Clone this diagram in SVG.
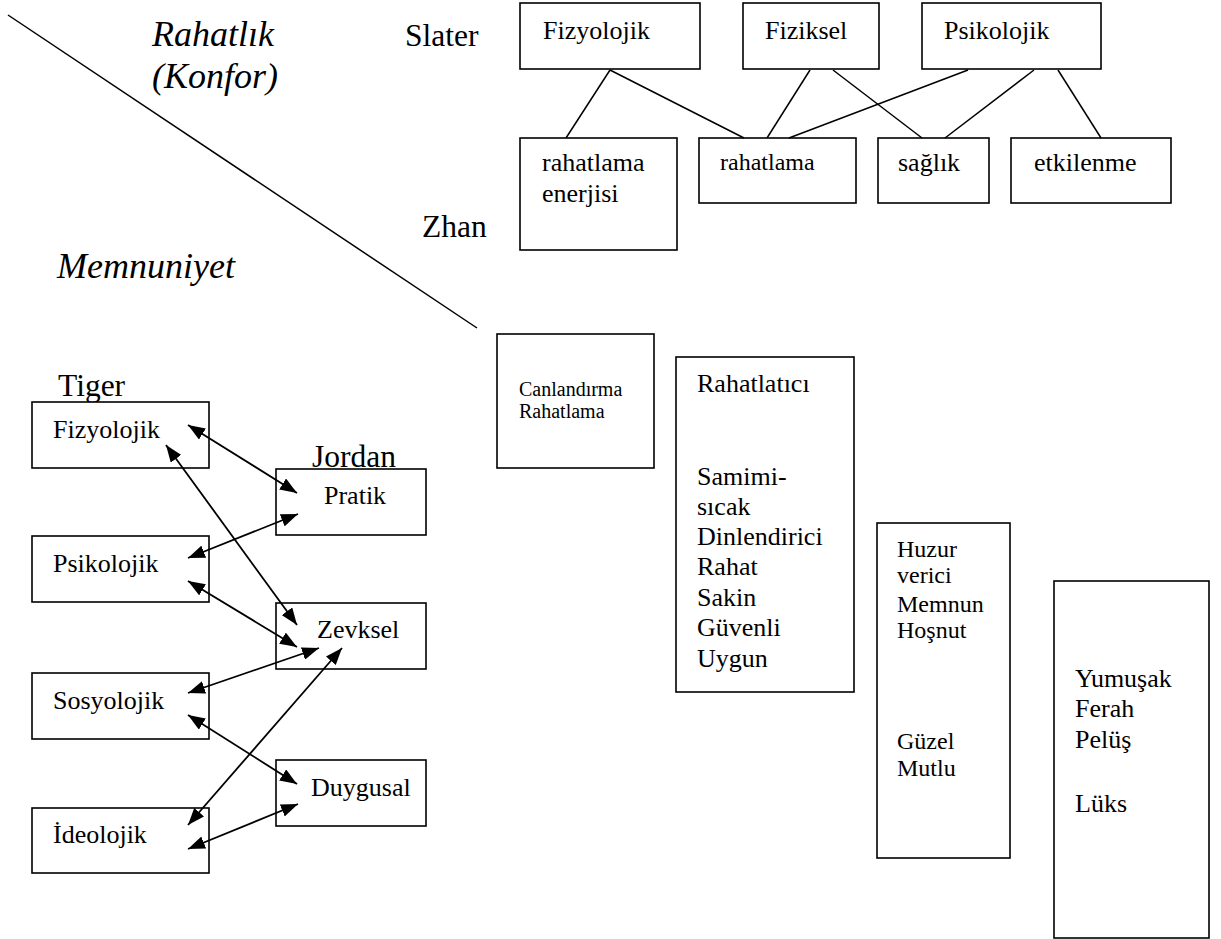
<svg xmlns="http://www.w3.org/2000/svg" width="1221" height="939" viewBox="0 0 1221 939" font-family="'Liberation Serif','Times New Roman',serif">
<defs>
<marker id="ah" viewBox="0 0 17 13" refX="17" refY="6.5" markerWidth="17" markerHeight="13" markerUnits="userSpaceOnUse" orient="auto-start-reverse">
<path d="M0,0 L17,6.5 L0,13 z" fill="#000"/>
</marker>
<style>
text{font-family:"Liberation Serif","Times New Roman",serif;fill:#000}
.b{fill:#fff;stroke:#000;stroke-width:1.6}
.t{font-size:26px}
.s{font-size:24px}
.xs{font-size:20px}
.lab{font-size:31.5px}
.it{font-size:36px;font-style:italic}
.ln{stroke:#000;stroke-width:1.5;fill:none}
.ar{stroke:#000;stroke-width:1.8;fill:none;marker-start:url(#ah);marker-end:url(#ah)}
</style>
</defs>
<rect width="1221" height="939" fill="#fff"/>

<g id="labels">
<line class="ln" x1="8" y1="15" x2="477" y2="328"/>
<text class="it" x="152" y="46">Rahatlık</text>
<text class="it" x="152" y="88">(Konfor)</text>
<text class="it" x="57" y="278">Memnuniyet</text>
<text class="lab" x="405" y="46">Slater</text>
<text class="lab" x="422" y="237">Zhan</text>
<text class="lab" x="58" y="396">Tiger</text>
<text class="lab" x="312" y="467">Jordan</text>
</g>

<g id="slater-fizyolojik"><rect class="b" x="520" y="3" width="180" height="66"/><text class="t" x="543" y="39">Fizyolojik</text></g>
<g id="slater-fiziksel"><rect class="b" x="743" y="3" width="136" height="66"/><text class="t" x="765" y="39">Fiziksel</text></g>
<g id="slater-psikolojik"><rect class="b" x="922" y="3" width="179" height="66"/><text class="t" x="944" y="39">Psikolojik</text></g>

<g id="zhan-rahatlama-enerjisi"><rect class="b" x="520" y="138" width="157" height="112"/><text class="t" x="542" y="171">rahatlama</text><text class="t" x="542" y="202">enerjisi</text></g>
<g id="zhan-rahatlama"><rect class="b" x="699" y="138" width="157" height="65"/><text class="s" x="720" y="170">rahatlama</text></g>
<g id="zhan-saglik"><rect class="b" x="878" y="138" width="111" height="65"/><text class="t" x="898" y="171">sağlık</text></g>
<g id="zhan-etkilenme"><rect class="b" x="1011" y="138" width="160" height="65"/><text class="t" x="1034" y="171">etkilenme</text></g>

<g id="tiger-fizyolojik"><rect class="b" x="32" y="402" width="177" height="66"/><text class="t" x="53" y="438">Fizyolojik</text></g>
<g id="tiger-psikolojik"><rect class="b" x="32" y="536" width="177" height="66"/><text class="t" x="53" y="572">Psikolojik</text></g>
<g id="tiger-sosyolojik"><rect class="b" x="32" y="673" width="177" height="66"/><text class="t" x="53" y="709">Sosyolojik</text></g>
<g id="tiger-ideolojik"><rect class="b" x="32" y="808" width="177" height="65"/><text class="t" x="53" y="843">İdeolojik</text></g>

<g id="jordan-pratik"><rect class="b" x="276" y="469" width="150" height="66"/><text class="t" x="324" y="504">Pratik</text></g>
<g id="jordan-zevksel"><rect class="b" x="276" y="603" width="150" height="66"/><text class="t" x="317" y="638">Zevksel</text></g>
<g id="jordan-duygusal"><rect class="b" x="276" y="760" width="150" height="66"/><text class="t" x="311" y="796">Duygusal</text></g>

<g id="canlandirma"><rect class="b" x="497" y="334" width="157" height="134"/><text class="xs" x="519" y="396">Canlandırma</text><text class="xs" x="519" y="418">Rahatlama</text></g>

<g id="rahatlatici"><rect class="b" x="676" y="357" width="178" height="335"/>
<text class="t" x="697" y="392">Rahatlatıcı</text>
<text class="t" x="697" y="485">Samimi-</text>
<text class="t" x="697" y="515">sıcak</text>
<text class="t" x="697" y="545">Dinlendirici</text>
<text class="t" x="697" y="575">Rahat</text>
<text class="t" x="697" y="606">Sakin</text>
<text class="t" x="697" y="636">Güvenli</text>
<text class="t" x="697" y="667">Uygun</text>
</g>

<g id="huzur"><rect class="b" x="877" y="523" width="133" height="335"/>
<text class="s" x="897" y="557">Huzur</text>
<text class="s" x="897" y="583">verici</text>
<text class="s" x="897" y="612">Memnun</text>
<text class="s" x="897" y="638">Hoşnut</text>
<text class="s" x="897" y="749">Güzel</text>
<text class="s" x="897" y="776">Mutlu</text>
</g>

<g id="yumusak"><rect class="b" x="1054" y="581" width="155" height="357"/>
<text class="t" x="1075" y="687">Yumuşak</text>
<text class="t" x="1075" y="717">Ferah</text>
<text class="t" x="1075" y="748">Pelüş</text>
<text class="t" x="1075" y="812">Lüks</text>
</g>

<g id="connectors">
<line class="ln" x1="610" y1="70" x2="566" y2="138"/>
<line class="ln" x1="610" y1="70" x2="744" y2="138"/>
<line class="ln" x1="810" y1="70" x2="767" y2="138"/>
<line class="ln" x1="833" y1="70" x2="922" y2="138"/>
<line class="ln" x1="968" y1="70" x2="789" y2="138"/>
<line class="ln" x1="1034" y1="70" x2="945" y2="138"/>
<line class="ln" x1="1058" y1="70" x2="1101" y2="138"/>
<line class="ar" x1="188" y1="425" x2="297" y2="493"/>
<line class="ar" x1="166" y1="445" x2="297" y2="625"/>
<line class="ar" x1="188" y1="558" x2="298" y2="514"/>
<line class="ar" x1="188" y1="581" x2="297" y2="647"/>
<line class="ar" x1="188" y1="693" x2="319" y2="648"/>
<line class="ar" x1="188" y1="825" x2="342" y2="648"/>
<line class="ar" x1="188" y1="715" x2="297" y2="784"/>
<line class="ar" x1="188" y1="849" x2="298" y2="804"/>
</g>
</svg>
